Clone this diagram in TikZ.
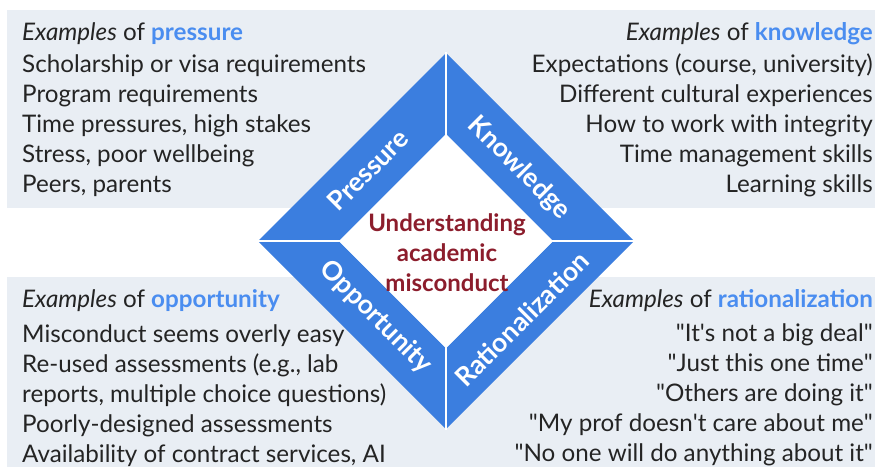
\documentclass[tikz,border=0pt]{standalone}
\usepackage{fontspec}
\setmainfont{Lato}
\usetikzlibrary{positioning}
\definecolor{panel}{HTML}{E9EEF4}
\definecolor{bandblue}{HTML}{3B7EDF}
\definecolor{keyblue}{HTML}{4A8DF0}
\definecolor{darkred}{HTML}{8C1D2C}
\definecolor{ink}{HTML}{242424}
\newcommand{\exof}[1]{\textit{Examples} of \textbf{\textcolor{keyblue}{#1}}}
\newcommand{\q}{\textquotedbl}

\begin{document}
\begin{tikzpicture}[x=1pt,y=-1pt,
	listtext/.style={text=ink,inner sep=0pt,font=\fontsize{24.2}{30}\selectfont},
	bandlabel/.style={text=white,inner sep=0pt,font=\bfseries\fontsize{26.5}{28}\selectfont},
	band/.style={fill=bandblue}]
	\useasboundingbox (0,0) rectangle (875,467);
	% grey panels behind
	\fill[panel] (7,10) rectangle (875,208);
	\fill[panel] (7,277) rectangle (875,467);
	
	% draw the four bands of the diamond
	\fill[band] (258,241) -- (446,53) -- (446,134) -- (339,241) -- cycle;
	\fill[band] (446,53) -- (634,241) -- (553,241) -- (446,134) -- cycle;
	\fill[band] (258,241) -- (446,429) -- (446,348) -- (339,241) -- cycle;
	\fill[band] (634,241) -- (446,429) -- (446,348) -- (553,241) -- cycle;
	\fill[white] (339,241) -- (446,134) -- (553,241) -- (446,348) -- cycle;
	% white seams
	\draw[white,line width=2.5pt] (446,52) -- (446,135) (446,347) -- (446,430);
	\draw[white,line width=2.5pt] (257,241) -- (340,241) (552,241) -- (635,241);
	
	% band labels
	\node[bandlabel,rotate=45] (pressure) at (368,170) {Pressure};
	\node[bandlabel,rotate=-45] (knowledge) at (519,168) {Knowledge};
	\node[bandlabel,rotate=-45] (opportunity) at (376,317) {Opportunity};
	\node[bandlabel,rotate=45] (rational) at (522,319) {Rationalization};
	
	% centre
	\node[text=darkred,align=center,font=\bfseries\fontsize{24}{30}\selectfont] (centre) at (447,253)
	{Understanding\\academic\\misconduct};
	
	% the four lists
	\node[listtext,align=left,anchor=north west] (pressurelist) at (22,22)
	{\exof{pressure}\\[2pt]
		Scholarship or visa requirements\\
		Program requirements\\
		Time pressures, high stakes\\
		Stress, poor wellbeing\\
		Peers, parents};
	\node[listtext,align=right,anchor=north east] (knowledgelist) at (873,22)
	{\exof{knowledge}\\[2pt]
		Expectations (course, university)\\
		Different cultural experiences\\
		How to work with integrity\\
		Time management skills\\
		Learning skills};
	\node[listtext,align=left,anchor=north west] (opportunitylist) at (22,289)
	{\exof{opportunity}\\[5pt]
		Misconduct seems overly easy\\
		Re-used assessments (e.g., lab\\
		reports, multiple choice questions)\\
		Poorly-designed assessments\\
		Availability of contract services, AI};
	\node[listtext,align=right,anchor=north east] (rationallist) at (873,289)
	{\exof{rationalization}\\[4pt]
		\q It\textquotesingle s not a big deal\q\\
		\q Just this one time\q\\
		\q Others are doing it\q\\
		\q My prof doesn\textquotesingle t care about me\q\\
		\q No one will do anything about it\q};
\end{tikzpicture}
\end{document}
